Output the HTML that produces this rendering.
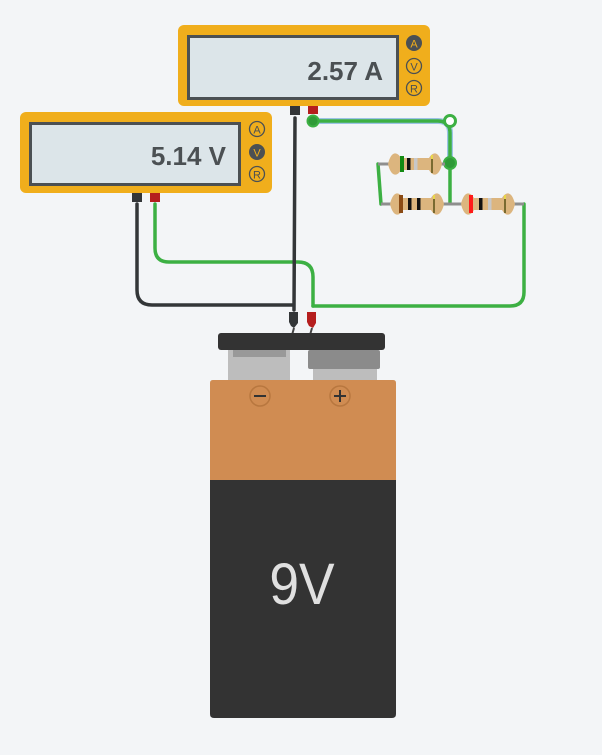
<!DOCTYPE html>
<html><head><style>
html,body{margin:0;padding:0;background:#f3f5f7;}
svg{display:block;}
text{font-family:"Liberation Sans",sans-serif;}
</style></head><body>
<svg width="602" height="755" viewBox="0 0 602 755" xmlns="http://www.w3.org/2000/svg">
<defs>
<g id="res">
<path d="M0,0 C3,-13 9,-13 13,-6 L41,-6 C45,-13 51,-13 54,0 C51,13 45,13 41,6 L13,6 C9,13 3,13 0,0 Z" fill="#dcb57e"/>
</g>
</defs>
<rect width="602" height="755" fill="#f3f5f7"/>

<!-- Ammeter -->
<rect x="178" y="25" width="252" height="81" rx="6" fill="#f0ae1c"/>
<rect x="188.5" y="36.5" width="209" height="62" fill="#dce5e9" stroke="#4b5053" stroke-width="3"/>
<text x="383" y="80" text-anchor="end" font-size="26" font-weight="bold" fill="#4b5053">2.57 A</text>
<circle cx="414" cy="43" r="8" fill="#4b5053"/><text x="414" y="47.5" text-anchor="middle" font-size="11" fill="#f0ae1c">A</text>
<circle cx="414" cy="66" r="7.5" fill="none" stroke="#4b5053" stroke-width="1.3"/><text x="414" y="70.5" text-anchor="middle" font-size="11" fill="#4b5053">V</text>
<circle cx="414" cy="88" r="7.5" fill="none" stroke="#4b5053" stroke-width="1.3"/><text x="414" y="92.5" text-anchor="middle" font-size="11" fill="#4b5053">R</text>

<!-- Voltmeter -->
<rect x="20" y="112" width="252" height="81" rx="6" fill="#f0ae1c"/>
<rect x="30.5" y="123.5" width="209" height="61" fill="#dce5e9" stroke="#4b5053" stroke-width="3"/>
<text x="226" y="165" text-anchor="end" font-size="26" font-weight="bold" fill="#4b5053">5.14 V</text>
<circle cx="257" cy="129" r="7.5" fill="none" stroke="#4b5053" stroke-width="1.3"/><text x="257" y="133.5" text-anchor="middle" font-size="11" fill="#4b5053">A</text>
<circle cx="257" cy="152" r="8" fill="#4b5053"/><text x="257" y="156.5" text-anchor="middle" font-size="11" fill="#f0ae1c">V</text>
<circle cx="257" cy="174" r="7.5" fill="none" stroke="#4b5053" stroke-width="1.3"/><text x="257" y="178.5" text-anchor="middle" font-size="11" fill="#4b5053">R</text>

<!-- wires -->
<g fill="none" stroke-width="3.5" stroke-linecap="round">
<path d="M313,121 L438,121 Q450,121 450,133 L450,163" stroke="#9cc3e6" stroke-width="6"/>
<path d="M313,121 L438,121 Q450,121 450,133 L450,203" stroke="#3cb043"/>
<path d="M378,164 L381,204" stroke="#3cb043"/>
<path d="M524,204 L524,292 Q524,306 510,306 L313,306" stroke="#3cb043"/>
<path d="M155,204 L155,248 Q155,262 169,262 L298,262 Q313,262 313,277 L313,306" stroke="#3cb043"/>
<path d="M137,204 L137,290 Q137,305 152,305 L293,305" stroke="#333638"/>
<path d="M295,118 L294,310" stroke="#333638"/>
</g>
<!-- nodes -->
<circle cx="450" cy="121" r="5.5" fill="#fff" stroke="#3cb043" stroke-width="3"/>
<circle cx="313" cy="121" r="5.5" fill="#2f9a38" stroke="#3cb043" stroke-width="2"/>
<circle cx="450" cy="163" r="6" fill="#2f9a38" stroke="#3cb043" stroke-width="2"/>

<!-- resistor leads -->
<g stroke="#8e8e8e" stroke-width="3">
<line x1="378" y1="164" x2="445" y2="164"/>
<line x1="381" y1="204" x2="524" y2="204"/>
</g>
<!-- resistors -->
<g transform="translate(388,164)"><use href="#res"/>
<rect x="12" y="-8" width="4" height="16" fill="#138a13"/><rect x="19" y="-6" width="3.5" height="12" fill="#111"/><rect x="26" y="-6" width="3.5" height="12" fill="#c8c8c8"/><rect x="43" y="-9" width="2" height="18" fill="#7a6a30"/><rect x="43" y="-9" width="2" height="4" fill="#e8d84a"/></g>
<g transform="translate(390,204)"><use href="#res"/>
<rect x="9" y="-9" width="4" height="18" fill="#8a4a14"/><rect x="18" y="-6" width="3.5" height="12" fill="#111"/><rect x="27" y="-6" width="3.5" height="12" fill="#111"/><rect x="43" y="-9" width="2" height="18" fill="#7a6a30"/><rect x="43" y="-9" width="2" height="4" fill="#e8d84a"/></g>
<g transform="translate(461,204)"><use href="#res"/>
<rect x="8" y="-9" width="4" height="18" fill="#ff1a1a"/><rect x="18" y="-6" width="3.5" height="12" fill="#111"/><rect x="27" y="-6" width="3.5" height="12" fill="#c8c8c8"/><rect x="43" y="-9" width="2" height="18" fill="#7a6a30"/><rect x="43" y="-9" width="2" height="4" fill="#e8d84a"/></g>

<!-- meter probes -->
<rect x="290" y="106" width="10" height="9" fill="#333638"/><rect x="308" y="106" width="10" height="8" fill="#b51e1e"/>
<rect x="132" y="193" width="10" height="9" fill="#333638"/><rect x="150" y="193" width="10" height="9" fill="#b51e1e"/>
<!-- battery clips -->
<path d="M289,312 L298,312 L298,323 L294,328 L291,326 L289,322 Z" fill="#333638"/>
<path d="M307,312 L316,312 L316,323 L313,328 L309,326 L307,322 Z" fill="#b51e1e"/>
<path d="M294,328 L292,335 M312,328 L310,335" stroke-width="2" stroke="#444"/>

<!-- battery -->
<rect x="228" y="350" width="62" height="35" fill="#bdbdbd"/>
<rect x="233" y="350" width="53" height="7" fill="#999"/>
<rect x="313" y="360" width="64" height="25" fill="#bdbdbd"/>
<rect x="308" y="350" width="72" height="19" rx="2" fill="#8b8b8b"/>
<rect x="218" y="333" width="167" height="17" rx="3" fill="#333"/>
<path d="M213,380 L393,380 Q396,380 396,383 L396,480 L210,480 L210,383 Q210,380 213,380Z" fill="#d08c52"/>
<path d="M210,480 L396,480 L396,714 Q396,718 392,718 L214,718 Q210,718 210,714 Z" fill="#333"/>
<circle cx="260" cy="396" r="10" fill="none" stroke="#b8773f" stroke-width="1.5"/>
<line x1="254" y1="396" x2="266" y2="396" stroke="#333" stroke-width="2"/>
<circle cx="340" cy="396" r="10" fill="none" stroke="#b8773f" stroke-width="1.5"/>
<line x1="334" y1="396" x2="346" y2="396" stroke="#333" stroke-width="2"/>
<line x1="340" y1="390" x2="340" y2="402" stroke="#333" stroke-width="2"/>
<text x="302" y="604" text-anchor="middle" font-size="58" fill="#e0e0e0" transform="translate(302,0) scale(0.92,1) translate(-302,0)">9V</text>
</svg>
</body></html>
